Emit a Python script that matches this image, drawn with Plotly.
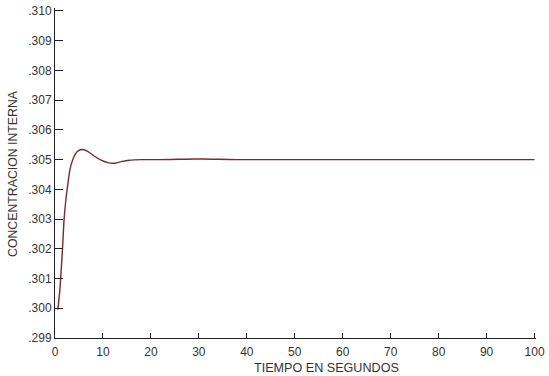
import plotly.graph_objects as go

# Step response of the internal concentration
tiempo = [0.6, 1.0, 1.3, 1.6, 1.9, 2.3, 2.7, 3.1, 3.6, 4.2, 4.9, 5.8, 6.8, 8.0,
          9.5, 11.0, 12.5, 14.0, 15.5, 18.0, 22.0, 26.0, 29.0, 31.0, 34.0,
          38.0, 45.0, 55.0, 65.0, 75.0, 85.0, 95.0, 100.0]
concentracion = [0.29995, 0.3006, 0.3013, 0.3021, 0.3030, 0.3037, 0.3042, 0.30465,
                 0.30495, 0.30518, 0.30530, 0.30534, 0.30528, 0.30514,
                 0.30499, 0.30490, 0.30488, 0.30494, 0.30498, 0.30500, 0.30500,
                 0.30501, 0.30502, 0.30502, 0.30501, 0.30500, 0.30500, 0.30500,
                 0.30500, 0.30500, 0.30500, 0.30500, 0.30500]

x_ticks = [0, 10, 20, 30, 40, 50, 60, 70, 80, 90, 100]
y_ticks = [0.299, 0.300, 0.301, 0.302, 0.303, 0.304, 0.305, 0.306, 0.307, 0.308, 0.309, 0.310]
y_labels = [".299", ".300", ".301", ".302", ".303", ".304", ".305", ".306", ".307", ".308", ".309", ".310"]

font = "Liberation Sans, Arial, sans-serif"

# Plot area in page pixels
W, H = 549, 376
L, R, T, B = 55, 13, 4, 38
pw, ph = W - L - R, H - T - B

fig = go.Figure()
fig.add_trace(go.Scatter(
    x=tiempo, y=concentracion, mode="lines",
    line=dict(color="#7a2a2a", width=1.4, shape="spline", smoothing=0.8),
    showlegend=False, hoverinfo="skip",
))

fig.update_layout(
    width=W, height=H,
    margin=dict(l=L, r=R, t=T, b=B),
    paper_bgcolor="white", plot_bgcolor="white",
    font=dict(family=font, size=12, color="#333333"),
    xaxis=dict(
        range=[0, 100.3], tickvals=x_ticks, ticks="inside", ticklen=5,
        tickcolor="#222", tickwidth=1, showline=True, linecolor="#222",
        linewidth=1, showgrid=False, zeroline=False, ticklabelstandoff=3,
        tickfont=dict(family=font, size=12, color="#333"),
    ),
    yaxis=dict(
        range=[0.299, 0.3101], tickvals=y_ticks, ticktext=y_labels,
        ticks="inside", ticklen=8, tickcolor="#222", tickwidth=1,
        showline=True, linecolor="#222", linewidth=1, showgrid=False,
        zeroline=False, tickfont=dict(family=font, size=12, color="#333"),
    ),
    annotations=[
        dict(text="TIEMPO EN SEGUNDOS", xref="paper", yref="paper",
             x=(326 - L) / pw, y=(H - B - 368) / ph,
             xanchor="center", yanchor="middle", showarrow=False,
             font=dict(family=font, size=12.6, color="#333")),
        dict(text="CONCENTRACION INTERNA", xref="paper", yref="paper",
             x=(13 - L) / pw, y=(H - B - 172) / ph, textangle=-90,
             xanchor="center", yanchor="middle", showarrow=False,
             font=dict(family=font, size=12.3, color="#333")),
    ],
)

fig.write_html("out.html")
